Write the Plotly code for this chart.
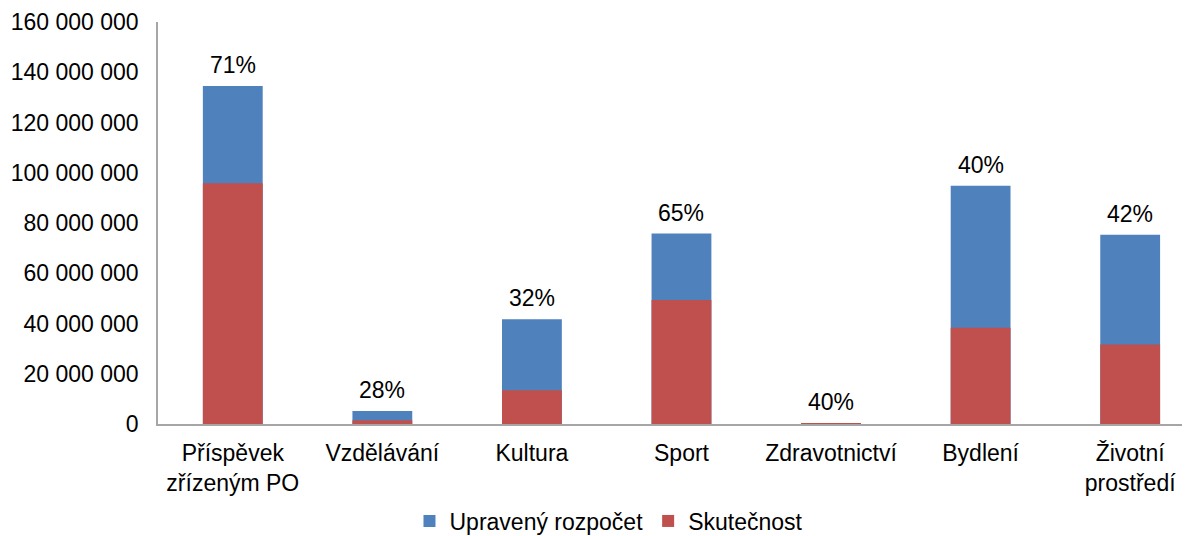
import plotly.graph_objects as go

oblasti = ['Příspěvek<br>zřízeným PO', 'Vzdělávání', 'Kultura', 'Sport',
           'Zdravotnictví', 'Bydlení', 'Životní<br>prostředí']
upraveny_rozpocet = [134500000, 5200000, 41700000, 75800000, 300000, 94800000, 75300000]
skutecnost = [95800000, 1450000, 13400000, 49400000, 120000, 38300000, 31600000]

# plneni v procentech
procenta = ['{:.0f}%'.format(s / u * 100) for s, u in zip(skutecnost, upraveny_rozpocet)]

fig = go.Figure()

fig.add_trace(go.Bar(x=oblasti, y=upraveny_rozpocet, name='Upravený rozpočet',
                     marker_color='#4F81BD', marker_line_width=0, width=0.4))
fig.add_trace(go.Bar(x=oblasti, y=skutecnost, name='Skutečnost',
                     marker_color='#C0504D', marker_line_width=0, width=0.4))

# popisky s procenty nad sloupci
for o, u, p in zip(oblasti, upraveny_rozpocet, procenta):
    fig.add_annotation(x=o, y=u, text=p, showarrow=False, yanchor='bottom',
                       yshift=6, font=dict(size=23, color='black'))

# stranka ma 8px okraj, proto je graf o 8px mensi
fig.update_layout(
    barmode='overlay',
    width=1182, height=528,
    margin=dict(l=150, r=0, t=14, b=112, autoexpand=False),
    plot_bgcolor='white', paper_bgcolor='white',
    font=dict(family='Liberation Sans, Arial', size=23, color='black'),
    separators=', ',
    showlegend=True,
    legend=dict(orientation='h', x=0.437, y=-0.2413, xanchor='center', yanchor='middle',
                font=dict(size=23), traceorder='normal'),
)

fig.update_xaxes(range=[-0.5, 6.4], showline=True, linecolor='#a6a6a6', linewidth=1.5,
                 ticks='', ticklabelstandoff=8, showgrid=False, automargin=False)
fig.update_yaxes(range=[0, 160000000], dtick=20000000, tickformat=',d',
                 showline=True, linecolor='#a6a6a6', linewidth=1.5,
                 ticks='', ticklabelstandoff=13, showgrid=False, zeroline=False,
                 automargin=False)

fig.write_html("out.html")
